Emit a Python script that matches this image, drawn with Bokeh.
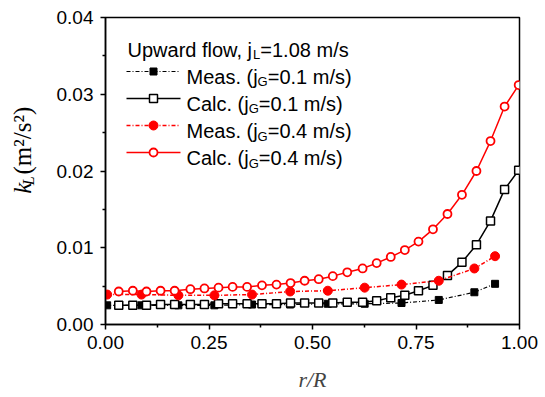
import math
from bokeh.plotting import figure
from bokeh.models import Range1d, Label, FixedTicker
from bokeh.layouts import row
from bokeh.embed import file_html
from bokeh.resources import INLINE

# ---------------- data ----------------
calc_x = [0.032, 0.066, 0.099, 0.133, 0.167, 0.205, 0.239, 0.273, 0.307, 0.342,
          0.378, 0.413, 0.447, 0.481, 0.515, 0.549, 0.584, 0.621, 0.655, 0.689,
          0.723, 0.756, 0.791, 0.826, 0.861, 0.896, 0.930, 0.964, 0.998]
calc_01 = [0.0025, 0.0025, 0.0025, 0.0026, 0.0026, 0.0026, 0.0026, 0.0027, 0.0027, 0.0027,
           0.0027, 0.0027, 0.0028, 0.0028, 0.0028, 0.0028, 0.0029, 0.0029, 0.0031, 0.0035,
           0.0038, 0.0044, 0.0051, 0.0064, 0.0081, 0.0104, 0.0135, 0.0176, 0.0201]
calc_04 = [0.0043, 0.0044, 0.0043, 0.0044, 0.0044, 0.0046, 0.0047, 0.0048, 0.0049, 0.0049,
           0.0051, 0.0052, 0.0054, 0.0057, 0.0059, 0.0063, 0.0068, 0.0073, 0.0080, 0.0088,
           0.0097, 0.0108, 0.0124, 0.0144, 0.0169, 0.0200, 0.0239, 0.0284, 0.0312]
meas_x = [0.004, 0.087, 0.176, 0.263, 0.354, 0.446, 0.537, 0.626, 0.715, 0.805, 0.891, 0.941]
meas_01 = [0.0025, 0.0025, 0.0025, 0.0025, 0.0026, 0.0026, 0.0027, 0.0027, 0.0028, 0.0032, 0.0042, 0.0053]
meas_04 = [0.0039, 0.0039, 0.0038, 0.0038, 0.0039, 0.0043, 0.0044, 0.0048, 0.0052, 0.0057, 0.0073, 0.0089]

x_ticks = [0.0, 0.25, 0.5, 0.75, 1.0]
y_ticks = [0.0, 0.01, 0.02, 0.03, 0.04]

RED = "#ff0000"
BLACK = "#000000"

# layout constants (pixels)
W, H = 545, 397
SIDE = 42                      # width of the strip holding the rotated y label
L_, R_, T_, B_ = 105, 26, 17, 73
MW = W - SIDE                  # main figure width
ML = L_ - SIDE                 # main figure left border
FW = MW - ML - R_
FH = H - T_ - B_
XMIN, XMAX, YMIN, YMAX = 0.0, 1.0, 0.0, 0.04


def dx(px):
    return XMIN + (px - L_) / FW * (XMAX - XMIN)


def dy(py):
    return YMIN + (T_ + FH - py) / FH * (YMAX - YMIN)


p = figure(width=MW, height=H, output_backend="svg", toolbar_location=None,
           x_range=Range1d(XMIN, XMAX), y_range=Range1d(YMIN, YMAX),
           min_border_left=ML, min_border_right=R_, min_border_top=T_, min_border_bottom=B_)
p.background_fill_color = "white"
p.border_fill_color = "white"
p.grid.visible = False
p.outline_line_color = "black"
p.outline_line_width = 1.5

for ax in (p.xaxis[0], p.yaxis[0]):
    ax.axis_line_width = 1.5
    ax.major_tick_line_width = 1.5
    ax.minor_tick_line_width = 1.5
    ax.major_tick_out = 5
    ax.major_tick_in = 0
    ax.minor_tick_out = 3
    ax.minor_tick_in = 0
    ax.major_label_text_font = "Liberation Sans"
    ax.major_label_text_font_size = "19px"
    ax.major_label_text_color = "black"

p.xaxis.ticker = FixedTicker(ticks=x_ticks, minor_ticks=[0.125, 0.375, 0.625, 0.875])
p.yaxis.ticker = FixedTicker(ticks=y_ticks, minor_ticks=[0.005, 0.015, 0.025, 0.035])
p.xaxis.major_label_overrides = {t: f"{t:.2f}" for t in x_ticks}
p.yaxis.major_label_overrides = {t: f"{t:.2f}" for t in y_ticks}
p.xaxis.major_label_standoff = 6
p.yaxis.major_label_standoff = 7

p.xaxis.axis_label = "r/R"
p.xaxis.axis_label_text_font = "Liberation Serif"
p.xaxis.axis_label_text_font_style = "italic"
p.xaxis.axis_label_text_font_size = "22px"
p.xaxis.axis_label_standoff = 15

# ---------------- series ----------------
p.line(meas_x, meas_01, line_color=BLACK, line_width=1.2, line_dash="4 2 1 2")
p.scatter(meas_x, meas_01, marker="square", size=7, fill_color=BLACK, line_color=BLACK)

p.line(calc_x, calc_01, line_color=BLACK, line_width=1.5)
p.scatter(calc_x, calc_01, marker="square", size=8, fill_color="white", line_color=BLACK, line_width=1.5)

p.line(meas_x, meas_04, line_color=RED, line_width=1.5, line_dash="4 2 1 2")
p.scatter(meas_x, meas_04, marker="circle", size=9, fill_color=RED, line_color=RED)

p.line(calc_x, calc_04, line_color=RED, line_width=1.5)
p.scatter(calc_x, calc_04, marker="circle", size=8, fill_color="white", line_color=RED, line_width=1.8)

# ---------------- legend (manual, for subscripts) ----------------
FONT = "Liberation Sans"
FS = 20
SUB = 13


def txt(fig, x, y, s, size, color="black", style="normal", font=FONT, angle=0.0, baseline="alphabetic"):
    fig.add_layout(Label(x=x, y=y, text=s, text_font=font, text_font_size=f"{size}px",
                         text_color=color, text_font_style=style, angle=angle,
                         text_baseline=baseline, text_align="left"))


def ltxt(px, py, s, size):
    txt(p, dx(px), dy(py), s, size)


# title
tx = 127
ltxt(tx, 49, "Upward flow, j", FS)
sx = tx + 6.279 * FS
ltxt(sx, 54, "L", SUB)
ltxt(sx + 0.556 * SUB, 49, "=1.08 m/s", FS)

entries = [
    ("Meas. (j", 3.556, "=0.1 m/s)", BLACK, "meas", 76, 71),
    ("Calc. (j", 3.111, "=0.1 m/s)", BLACK, "calc", 103, 98),
    ("Meas. (j", 3.556, "=0.4 m/s)", RED, "meas", 130.5, 125),
    ("Calc. (j", 3.111, "=0.4 m/s)", RED, "calc", 157.5, 152),
]
for a, wa, b, col, kind, base, liney in entries:
    x0 = 186
    ltxt(x0, base, a, FS)
    gx = x0 + wa * FS
    ltxt(gx, base + 5, "G", SUB)
    ltxt(gx + 0.778 * SUB, base, b, FS)
    lx = [dx(126), dx(180)]
    ly = [dy(liney), dy(liney)]
    if kind == "meas":
        p.line(lx, ly, line_color=col, line_width=1.2 if col == BLACK else 1.5, line_dash="4 2 1 2")
        if col == BLACK:
            p.scatter([dx(153)], [dy(liney)], marker="square", size=7, fill_color=BLACK, line_color=BLACK)
        else:
            p.scatter([dx(153)], [dy(liney)], marker="circle", size=9, fill_color=RED, line_color=RED)
    else:
        p.line(lx, ly, line_color=col, line_width=1.5)
        if col == BLACK:
            p.scatter([dx(153)], [dy(liney)], marker="square", size=8, fill_color="white",
                      line_color=BLACK, line_width=1.5)
        else:
            p.scatter([dx(153)], [dy(liney)], marker="circle", size=8, fill_color="white",
                      line_color=RED, line_width=1.8)

# ---------------- y-axis label strip (rotated, with subscript) ----------------
side = figure(width=SIDE, height=H, output_backend="svg", toolbar_location=None,
              x_range=Range1d(0, SIDE), y_range=Range1d(H, 0),
              min_border_left=0, min_border_right=0, min_border_top=0, min_border_bottom=0,
              x_axis_location=None, y_axis_location=None)
side.grid.visible = False
side.outline_line_color = None
side.background_fill_color = "white"
side.border_fill_color = "white"

YF = 25
YS = 16
ang = math.pi / 2
cx = 22
y0 = 228
txt(side, cx, y0, "k", YF, style="italic", font="Liberation Serif", angle=ang, baseline="middle")
y1 = y0 - 0.444 * YF
txt(side, cx + 6, y1, "L", YS, style="italic", font="Liberation Serif", angle=ang, baseline="middle")
y2 = y1 - 0.556 * YS - 5
txt(side, cx, y2, "(m\u00b2/s\u00b2)", YF, font="Liberation Serif", angle=ang, baseline="middle")

layout = row(side, p, spacing=0)
open("out.html", "w").write(file_html(layout, INLINE))
